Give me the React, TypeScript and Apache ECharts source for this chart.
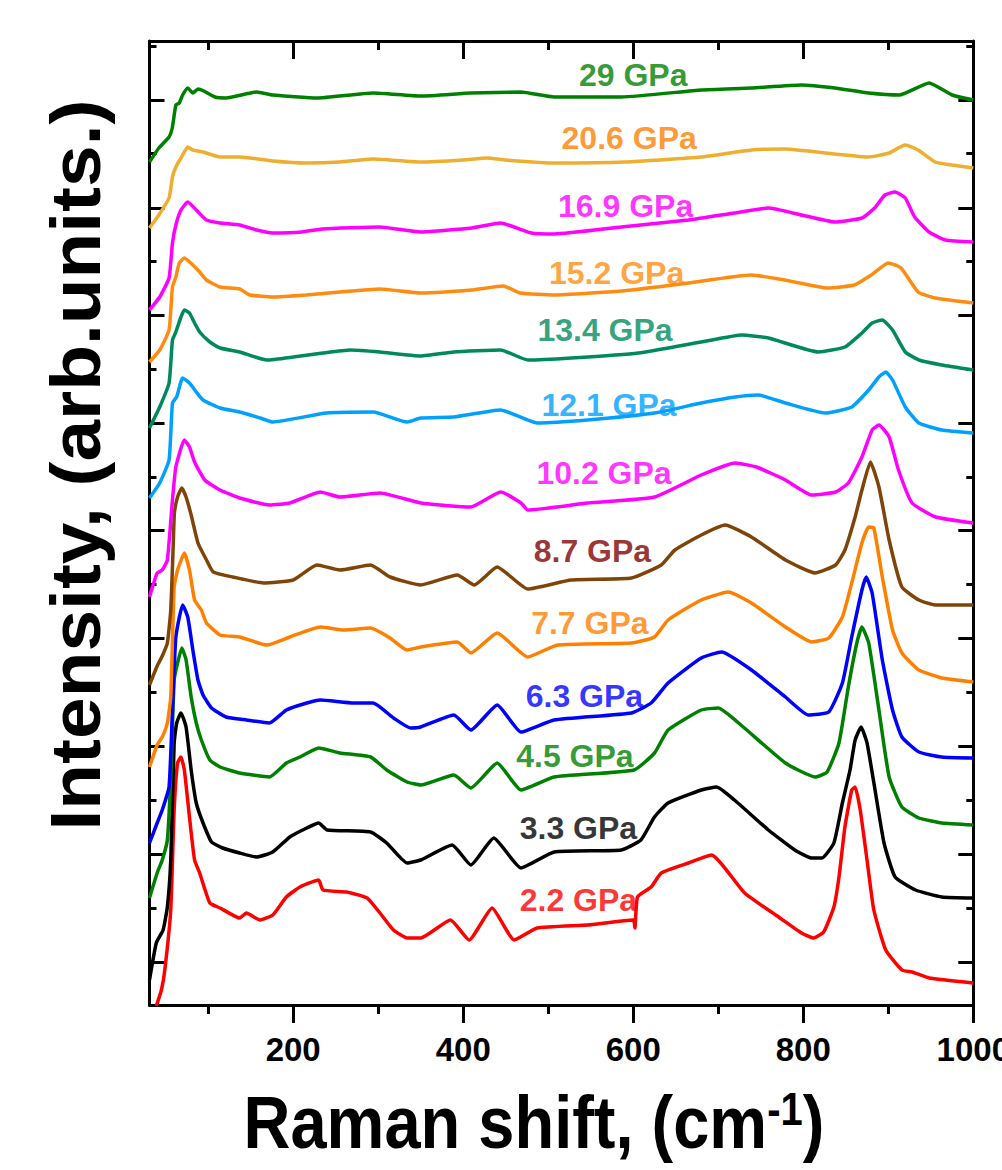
import React, { useEffect, useRef } from 'react';
import * as echarts from 'echarts';

const FONT = '"Liberation Sans", Arial, Helvetica, sans-serif';

// x axis range (cm^-1) and y range (arb. units, stacked offsets)
const X_MIN = 31;
const X_MAX = 1000;
const Y_MIN = 0.1;
const Y_MAX = 96.5;
const X_MAJOR = [200, 400, 600, 800, 1000];
const X_MINOR = [100, 300, 500, 700, 900];
const Y_MAJOR = [4.4, 15.2, 26.0, 36.8, 47.6, 58.3, 69.1, 79.8, 90.6];
const Y_MINOR = [9.8, 20.6, 31.4, 42.2, 52.9, 63.7, 74.5, 85.3, 96.0];

const s29 = [[31, 84.4], [42, 85.8], [54, 86.9], [58, 87.9], [62, 90.1], [66, 90.3], [70, 91.1], [76, 91.8], [82, 91.3], [88, 91.7], [95, 91.5], [108, 90.9], [121, 90.8], [157, 91.4], [176, 91.1], [228, 90.8], [294, 91.3], [350, 91.0], [409, 91.3], [468, 91.4], [507, 90.9], [586, 90.9], [680, 91.6], [739, 91.8], [798, 92.1], [837, 91.8], [877, 91.3], [913, 91.1], [948, 92.3], [975, 91.1], [1000, 90.6]];
const s20_6 = [[31, 77.8], [42, 79.1], [54, 80.8], [58, 82.9], [62, 83.9], [68, 84.8], [76, 85.9], [82, 85.6], [94, 85.4], [114, 84.9], [137, 84.9], [176, 84.5], [215, 84.3], [255, 84.4], [294, 84.7], [350, 84.4], [400, 84.6], [428, 84.8], [450, 84.6], [507, 84.3], [590, 84.4], [680, 84.9], [739, 85.6], [778, 85.7], [837, 85.2], [877, 84.9], [901, 85.3], [920, 86.1], [935, 85.6], [955, 84.4], [975, 84.1], [1000, 83.8]];
const s16_9 = [[31, 69.6], [43, 70.9], [54, 72.8], [58, 76.3], [62, 78.1], [68, 79.6], [76, 80.4], [86, 79.6], [98, 78.6], [114, 78.3], [137, 78.1], [157, 77.6], [176, 77.3], [210, 77.4], [234, 77.7], [302, 77.9], [350, 77.4], [410, 77.8], [444, 78.3], [480, 77.3], [507, 77.2], [586, 77.9], [665, 78.6], [719, 79.3], [759, 79.8], [798, 79.1], [837, 78.4], [869, 78.8], [884, 79.8], [896, 81.1], [908, 81.4], [920, 80.8], [931, 78.9], [948, 77.4], [967, 76.6], [1000, 76.4]];
const s15_2 = [[31, 64.4], [43, 65.6], [54, 67.6], [58, 71.9], [62, 72.9], [66, 74.3], [72, 74.8], [82, 74.1], [90, 73.4], [98, 72.6], [114, 71.9], [137, 71.7], [149, 71.1], [176, 70.9], [215, 71.1], [255, 71.4], [302, 71.7], [350, 71.3], [410, 71.6], [447, 72.0], [467, 71.3], [507, 71.1], [586, 71.5], [665, 72.3], [739, 73.1], [778, 72.6], [829, 71.8], [860, 72.1], [880, 73.1], [900, 74.3], [915, 73.8], [935, 71.4], [955, 70.8], [1000, 70.3]];
const s13_4 = [[31, 57.8], [43, 59.9], [54, 62.3], [58, 66.6], [62, 67.4], [68, 68.9], [72, 69.6], [78, 69.3], [84, 68.3], [90, 67.4], [102, 66.4], [114, 65.8], [137, 65.4], [169, 64.6], [200, 64.9], [235, 65.3], [267, 65.6], [302, 65.4], [350, 65.0], [389, 65.4], [444, 65.6], [476, 64.6], [527, 64.8], [606, 65.3], [680, 66.4], [728, 67.1], [759, 66.8], [818, 65.4], [849, 65.9], [869, 67.3], [881, 68.3], [893, 68.6], [905, 67.6], [920, 65.4], [936, 64.6], [963, 64.1], [1000, 63.6]];
const s12_1 = [[31, 50.8], [43, 52.3], [54, 54.6], [58, 60.3], [63, 60.9], [70, 62.8], [78, 62.3], [86, 61.4], [94, 60.6], [114, 59.8], [137, 59.4], [161, 58.8], [176, 58.4], [239, 59.3], [294, 59.4], [334, 58.4], [350, 58.8], [389, 58.9], [444, 59.6], [487, 58.3], [546, 58.6], [625, 59.3], [680, 60.3], [720, 60.9], [747, 61.1], [779, 60.3], [826, 59.3], [857, 59.9], [877, 61.6], [889, 62.9], [897, 63.4], [905, 62.6], [920, 59.9], [936, 58.3], [963, 57.6], [1000, 57.3]];
const s10_2 = [[31, 40.9], [40, 43.3], [46, 43.6], [52, 44.6], [58, 50.6], [62, 53.9], [72, 56.6], [78, 55.9], [84, 54.4], [96, 52.6], [114, 51.6], [137, 50.8], [172, 50.1], [196, 50.3], [232, 51.4], [255, 50.9], [302, 51.3], [350, 50.3], [409, 49.9], [444, 51.4], [468, 50.3], [476, 49.6], [546, 50.3], [625, 50.9], [680, 53.1], [720, 54.3], [745, 53.9], [779, 52.6], [810, 51.1], [838, 51.4], [853, 52.3], [869, 54.9], [881, 57.6], [889, 58.1], [901, 56.9], [912, 53.6], [928, 50.3], [956, 48.9], [1000, 48.3]];
const s8_7 = [[31, 32.1], [40, 34.0], [46, 35.0], [52, 36.3], [56, 39.6], [59, 46.3], [60.3, 49.3], [64, 50.9], [69, 51.8], [74, 50.9], [80, 49.1], [88, 46.3], [98, 44.6], [106, 43.4], [129, 42.9], [165, 42.3], [200, 42.6], [228, 44.1], [255, 43.6], [291, 44.1], [314, 42.9], [350, 42.1], [393, 43.1], [413, 42.1], [440, 43.9], [476, 41.7], [527, 42.6], [598, 42.8], [633, 44.1], [649, 45.6], [680, 47.1], [708, 48.1], [739, 46.9], [779, 44.6], [814, 43.3], [838, 44.1], [849, 45.6], [861, 48.9], [869, 51.6], [879, 54.4], [889, 51.9], [901, 46.6], [916, 41.9], [936, 40.6], [955, 40.1], [1000, 40.1]];
const s7_7 = [[31, 23.9], [40, 26.1], [46, 26.9], [52, 28.3], [56, 30.9], [60, 41.9], [64, 43.6], [72, 45.3], [78, 43.6], [84, 40.6], [92, 39.6], [98, 38.3], [114, 37.1], [137, 36.9], [169, 36.1], [196, 36.9], [232, 37.9], [260, 37.6], [291, 37.8], [314, 36.8], [334, 35.6], [350, 35.9], [393, 36.4], [409, 35.3], [440, 37.3], [476, 34.9], [511, 36.1], [598, 36.3], [625, 36.9], [641, 38.6], [680, 40.6], [712, 41.4], [739, 40.3], [779, 37.9], [810, 36.4], [830, 36.8], [846, 38.9], [857, 42.3], [869, 46.3], [877, 47.9], [883, 47.8], [893, 42.9], [905, 37.6], [916, 35.3], [936, 33.6], [963, 32.8], [1000, 32.4]];
const s6_3 = [[31, 16.3], [40, 18.3], [46, 19.6], [54, 21.9], [58, 29.6], [62, 36.9], [70, 40.1], [76, 38.9], [82, 35.6], [88, 32.6], [94, 31.1], [104, 29.8], [121, 28.9], [145, 28.6], [172, 28.3], [192, 29.6], [216, 30.3], [232, 30.6], [271, 30.3], [294, 30.3], [318, 28.8], [338, 27.8], [350, 27.9], [389, 29.1], [409, 27.6], [440, 30.1], [468, 27.4], [507, 28.6], [598, 29.3], [621, 30.3], [641, 32.3], [680, 34.8], [704, 35.4], [739, 33.6], [779, 30.9], [806, 29.1], [830, 29.4], [846, 32.3], [857, 36.9], [869, 41.6], [874, 42.9], [881, 41.3], [893, 34.6], [905, 29.6], [916, 26.9], [936, 25.4], [963, 24.9], [1000, 24.8]];
const s4_5 = [[31, 10.8], [40, 13.3], [46, 14.6], [52, 16.6], [56, 22.9], [60, 32.6], [64, 34.3], [69, 35.8], [74, 34.6], [80, 30.9], [86, 28.3], [92, 26.6], [102, 24.6], [114, 23.9], [137, 23.3], [172, 22.9], [192, 24.3], [208, 24.9], [230, 25.8], [255, 25.3], [291, 24.9], [310, 23.6], [334, 22.4], [350, 22.1], [389, 23.1], [409, 21.8], [440, 24.3], [468, 21.6], [507, 22.9], [601, 23.6], [625, 25.3], [641, 27.6], [680, 29.6], [700, 29.8], [728, 28.0], [779, 24.3], [814, 22.9], [828, 23.4], [842, 26.3], [853, 31.9], [863, 36.3], [869, 37.9], [877, 36.3], [889, 29.6], [901, 22.9], [916, 19.9], [936, 18.8], [963, 18.3], [1000, 18.1]];
const s3_3 = [[31, 2.6], [39, 6.3], [47, 7.6], [52, 9.9], [56, 14.6], [60, 26.3], [63, 28.3], [68, 29.3], [74, 27.9], [80, 23.6], [86, 20.3], [94, 18.3], [104, 16.4], [117, 15.8], [137, 15.3], [157, 14.9], [176, 15.4], [196, 16.9], [216, 17.8], [230, 18.3], [240, 17.6], [291, 17.4], [310, 16.3], [334, 14.3], [350, 14.6], [387, 16.1], [409, 14.1], [436, 16.8], [468, 13.8], [507, 15.4], [586, 15.6], [609, 16.6], [625, 18.9], [641, 20.3], [680, 21.6], [698, 21.9], [719, 20.6], [759, 17.6], [790, 15.6], [810, 14.8], [822, 14.8], [836, 16.3], [846, 20.3], [855, 23.6], [861, 26.6], [868, 27.9], [875, 26.3], [885, 21.3], [895, 16.3], [908, 12.9], [932, 11.6], [963, 10.9], [1000, 10.8]];
const s2_2 = [[39, 0.0], [45, 1.6], [49, 3.6], [56, 9.6], [60, 19.6], [64, 24.3], [68, 24.9], [72, 23.6], [78, 18.9], [84, 14.6], [90, 13.3], [102, 10.3], [114, 9.8], [137, 8.8], [145, 9.3], [161, 8.6], [176, 9.1], [192, 10.9], [208, 11.9], [230, 12.6], [235, 11.6], [263, 11.4], [287, 10.8], [302, 9.3], [318, 7.6], [334, 6.8], [350, 6.8], [385, 8.6], [407, 6.6], [434, 9.8], [460, 6.6], [487, 7.8], [546, 8.1], [600, 8.6], [602, 7.8], [605, 10.9], [621, 11.9], [633, 13.3], [665, 14.3], [692, 15.1], [731, 11.3], [771, 8.9], [798, 7.3], [812, 6.8], [824, 7.4], [836, 9.9], [842, 12.9], [849, 17.9], [857, 21.6], [861, 21.9], [867, 19.6], [875, 14.6], [883, 9.6], [897, 5.6], [916, 3.6], [928, 3.4], [948, 2.8], [1000, 2.3]];

const NAMES = ['2.2 GPa', '3.3 GPa', '4.5 GPa', '6.3 GPa', '7.7 GPa', '8.7 GPa', '10.2 GPa', '12.1 GPa', '13.4 GPa', '15.2 GPa', '16.9 GPa', '20.6 GPa', '29 GPa'];
const SERIES_DATA = [s2_2, s3_3, s4_5, s6_3, s7_7, s8_7, s10_2, s12_1, s13_4, s15_2, s16_9, s20_6, s29];
const LINE_COLORS = ['#FF0000', '#000000', '#008000', '#0000FF', '#FF8000', '#7F4508', '#FF00FF', '#00A0FF', '#008A5C', '#FF8C10', '#FF00FF', '#EEAE30', '#008000'];
const LABEL_COLORS = ['#FF0000', '#000000', '#008000', '#0000FF', '#FF8000', '#800000', '#FF00FF', '#00A0FF', '#008A5C', '#FF8C10', '#FF00FF', '#FF8000', '#008000'];
const LABEL_X = [535.5, 535.5, 531.4, 542.6, 549, 552, 565.6, 571.5, 566.8, 580.4, 591, 595.2, 600];
const LABEL_Y = [10.65, 17.85, 25.05, 31.05, 38.35, 45.55, 53.3, 60.1, 67.6, 73.35, 80.05, 86.8, 93.1];

function measure(text: string, font: string): number {
  const c = document.createElement('canvas');
  const ctx = c.getContext('2d');
  if (!ctx) return text.length * 30;
  ctx.font = font;
  return ctx.measureText(text).width;
}

export default function App() {
  const ref = useRef<HTMLDivElement>(null);
  useEffect(() => {
    document.body.style.margin = '0';
    if (!ref.current) return;
    const chart = echarts.init(ref.current, undefined, { renderer: 'svg' });

    const axisLine = { show: true, lineStyle: { color: '#000', width: 3 } };
    const common = { type: 'value' as const, min: X_MIN, max: X_MAX, splitLine: { show: false } };
    const commonY = { type: 'value' as const, min: Y_MIN, max: Y_MAX, splitLine: { show: false }, axisLabel: { show: false } };

    const titleFont = `bold 65px ${FONT}`;
    const supFont = `bold 40px ${FONT}`;
    const yTitleFont = `bold 70px ${FONT}`;
    const mainText = 'Raman shift, (cm';
    const wMain = measure(mainText, titleFont);
    const wSup = measure('-1', supFont);
    const wClose = measure(')', titleFont);
    const total = wMain + wSup + wClose;
    const cx = 534;
    const x0 = cx - total / 2;
    const base = 1160;

    const lineSeries = SERIES_DATA.map((d, i) => ({
      name: NAMES[i],
      type: 'line' as const,
      data: d,
      showSymbol: false,
      symbol: 'none',
      smooth: 0.15,
      lineStyle: { color: LINE_COLORS[i], width: 3.5 },
      itemStyle: { color: LINE_COLORS[i] },
      z: 3,
    }));

    const labelSeries = {
      type: 'scatter' as const,
      symbolSize: 0,
      z: 5,
      silent: true,
      data: NAMES.map((n, i) => ({
        value: [LABEL_X[i], LABEL_Y[i]],
        label: {
          show: true,
          position: 'inside',
          formatter: n,
          color: LABEL_COLORS[i],
          fontFamily: FONT,
          fontWeight: 'bold',
          fontSize: 32,
        },
      })),
    };

    chart.setOption({
      animation: false,
      backgroundColor: '#fff',
      grid: { left: 149.5, right: 28.7, top: 41, bottom: 165, containLabel: false, outerBoundsMode: 'none' },
      xAxis: [
        { ...common, position: 'bottom', axisLine, axisTick: { show: true, inside: false, length: 18, customValues: X_MAJOR, lineStyle: { width: 3, color: '#000' } }, axisLabel: { show: true, customValues: X_MAJOR, margin: 28, color: '#000', fontFamily: FONT, fontWeight: 'bold', fontSize: 33, formatter: (v: number) => String(v), showMaxLabel: true, hideOverlap: false } },
        { ...common, position: 'bottom', axisLine: { show: false }, axisTick: { show: true, inside: false, length: 9, customValues: X_MINOR, lineStyle: { width: 3, color: '#000' } }, axisLabel: { show: false } },
        { ...common, position: 'top', axisLine, axisTick: { show: true, inside: true, length: 18, customValues: X_MAJOR, lineStyle: { width: 3, color: '#000' } }, axisLabel: { show: false } },
        { ...common, position: 'top', axisLine: { show: false }, axisTick: { show: true, inside: true, length: 9, customValues: X_MINOR, lineStyle: { width: 3, color: '#000' } }, axisLabel: { show: false } },
      ],
      yAxis: [
        { ...commonY, position: 'left', axisLine, axisTick: { show: true, inside: true, length: 15, customValues: Y_MAJOR, lineStyle: { width: 3, color: '#000' } } },
        { ...commonY, position: 'left', axisLine: { show: false }, axisTick: { show: true, inside: true, length: 7, customValues: Y_MINOR, lineStyle: { width: 3, color: '#000' } } },
        { ...commonY, position: 'right', axisLine, axisTick: { show: true, inside: true, length: 15, customValues: Y_MAJOR, lineStyle: { width: 3, color: '#000' } } },
        { ...commonY, position: 'right', axisLine: { show: false }, axisTick: { show: true, inside: true, length: 7, customValues: Y_MINOR, lineStyle: { width: 3, color: '#000' } } },
      ],
      series: [...lineSeries, labelSeries],
      graphic: [
        {
          type: 'text',
          x: 75,
          y: 465,
          rotation: Math.PI / 2,
          scaleX: 1.07,
          style: { text: 'Intensity, (arb.units.)', font: yTitleFont, fill: '#000', textAlign: 'center', textVerticalAlign: 'middle' },
        },
        {
          type: 'group',
          x: 0,
          y: base,
          scaleY: 1.15,
          children: [
            { type: 'text', x: x0, y: 0, style: { text: mainText, font: titleFont, fill: '#000', textAlign: 'left', textVerticalAlign: 'bottom' } },
            { type: 'text', x: x0 + wMain, y: -24, style: { text: '-1', font: supFont, fill: '#000', textAlign: 'left', textVerticalAlign: 'bottom' } },
            { type: 'text', x: x0 + wMain + wSup, y: 0, style: { text: ')', font: titleFont, fill: '#000', textAlign: 'left', textVerticalAlign: 'bottom' } },
          ],
        },
      ],
    });
    return () => chart.dispose();
  }, []);
  return <div ref={ref} style={{ width: 1002, height: 1170 }} />;
}
